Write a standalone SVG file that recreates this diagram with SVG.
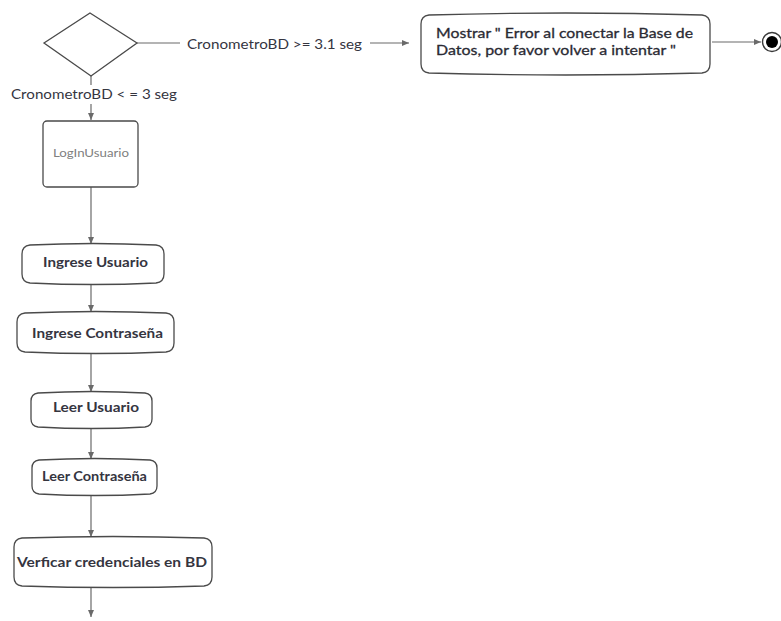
<svg xmlns="http://www.w3.org/2000/svg" width="781" height="621" viewBox="0 0 781 621">
  <style>
    .edge { fill: none; stroke: #6a6a6a; stroke-width: 1.2; }
    .shape { fill: #ffffff; stroke: #4a4a4a; stroke-width: 1.3; }
    .act { font-family: Lato, "Open Sans", "Liberation Sans", sans-serif; font-size: 14px; font-weight: bold; fill: #35353f; }
    .msg { font-family: Lato, "Open Sans", "Liberation Sans", sans-serif; font-size: 14px; font-weight: normal; fill: #2a2a33; stroke: #2a2a33; stroke-width: 0.3; }
    .cond { font-family: Lato, "Open Sans", "Liberation Sans", sans-serif; font-size: 14px; fill: #35353f; }
    .state { font-family: Lato, "Open Sans", "Liberation Sans", sans-serif; font-size: 11px; fill: #808080; }
  </style>
  <defs>
    <marker id="arrow" markerWidth="8" markerHeight="8" refX="7" refY="4" orient="auto" markerUnits="userSpaceOnUse">
      <path d="M0,1 L7,4 L0,7 Z" fill="#6a6a6a"/>
    </marker>
  </defs>

  <!-- connectors -->
  <g id="connectors">
    <line class="edge" x1="137" y1="43" x2="180" y2="43"/>
    <line class="edge" x1="370" y1="43" x2="409" y2="43" marker-end="url(#arrow)"/>
    <line class="edge" x1="712" y1="42" x2="761" y2="42" marker-end="url(#arrow)"/>
    <line class="edge" x1="91" y1="76" x2="91" y2="85"/>
    <line class="edge" x1="91" y1="104" x2="91" y2="120" marker-end="url(#arrow)"/>
    <line class="edge" x1="91" y1="187" x2="91" y2="244" marker-end="url(#arrow)"/>
    <line class="edge" x1="91" y1="283" x2="91" y2="312" marker-end="url(#arrow)"/>
    <line class="edge" x1="91" y1="352" x2="91" y2="392" marker-end="url(#arrow)"/>
    <line class="edge" x1="91" y1="427" x2="91" y2="459" marker-end="url(#arrow)"/>
    <line class="edge" x1="91" y1="494" x2="91" y2="537" marker-end="url(#arrow)"/>
    <line class="edge" x1="91" y1="586" x2="91" y2="617" marker-end="url(#arrow)"/>
    <text class="cond" x="187" y="49" textLength="175" lengthAdjust="spacingAndGlyphs">CronometroBD &gt;= 3.1 seg</text>
    <text class="cond" x="11" y="99" textLength="166" lengthAdjust="spacingAndGlyphs">CronometroBD &lt; = 3 seg</text>
  </g>

  <!-- decision -->
  <g id="decision">
    <polygon class="shape" points="90,13 137,43 91,76 44,43"/>
  </g>

  <!-- error message action -->
  <g id="errorMessage">
    <path class="shape" d="M429,15 Q566,11 702,15 Q710,16 710,24 L710,64 Q710,72 702,73 Q566,77 429,73 Q421,72 421,64 L421,24 Q421,16 429,15 Z"/>
    <text class="msg" x="436" y="38" textLength="257" lengthAdjust="spacingAndGlyphs">Mostrar " Error al conectar la Base de</text>
    <text class="msg" x="436" y="55" textLength="240" lengthAdjust="spacingAndGlyphs">Datos, por favor volver a intentar "</text>
  </g>

  <!-- final node -->
  <g id="finalNode">
    <circle cx="772" cy="42" r="9.5" fill="#ffffff" stroke="#3a3a3a" stroke-width="1.4"/>
    <circle cx="772" cy="42" r="6" fill="#000000"/>
  </g>

  <!-- login state -->
  <g id="loginUsuario">
    <rect class="shape" x="43" y="121" width="95" height="66" rx="4" ry="4" stroke="#666666"/>
    <text class="state" x="91" y="157" text-anchor="middle" textLength="76" lengthAdjust="spacingAndGlyphs">LogInUsuario</text>
  </g>

  <g id="ingreseUsuario">
    <path class="shape" d="M30,245 Q93,242 156,245 Q164,246 164,254 L164,274 Q164,282 156,283 Q93,286 30,283 Q22,282 22,274 L22,254 Q22,246 30,245 Z"/>
    <text class="act" x="43" y="267" textLength="105" lengthAdjust="spacingAndGlyphs">Ingrese Usuario</text>
  </g>

  <g id="ingreseContrasena">
    <path class="shape" d="M25,313 Q96,310 166,313 Q174,314 174,322 L174,343 Q174,351 166,352 Q96,355 25,352 Q17,351 17,343 L17,322 Q17,314 25,313 Z"/>
    <text class="act" x="32" y="338" textLength="131" lengthAdjust="spacingAndGlyphs">Ingrese Contraseña</text>
  </g>

  <g id="leerUsuario">
    <path class="shape" d="M38,393 Q92,390 145,393 Q152,394 152,401 L152,419 Q152,426 145,427 Q92,430 38,427 Q31,426 31,419 L31,401 Q31,394 38,393 Z"/>
    <text class="act" x="53" y="412" textLength="86" lengthAdjust="spacingAndGlyphs">Leer Usuario</text>
  </g>

  <g id="leerContrasena">
    <path class="shape" d="M39,460 Q95,457 150,460 Q157,461 157,468 L157,486 Q157,493 150,494 Q95,497 39,494 Q32,493 32,486 L32,468 Q32,461 39,460 Z"/>
    <text class="act" x="42" y="481" textLength="105" lengthAdjust="spacingAndGlyphs">Leer Contraseña</text>
  </g>

  <g id="verificarCredenciales">
    <path class="shape" d="M22,538 Q113,535 204,538 Q212,539 212,547 L212,577 Q212,585 204,586 Q113,589 22,586 Q14,585 14,577 L14,547 Q14,539 22,538 Z"/>
    <text class="act" x="17" y="567" textLength="190" lengthAdjust="spacingAndGlyphs">Verficar credenciales en BD</text>
  </g>
</svg>
